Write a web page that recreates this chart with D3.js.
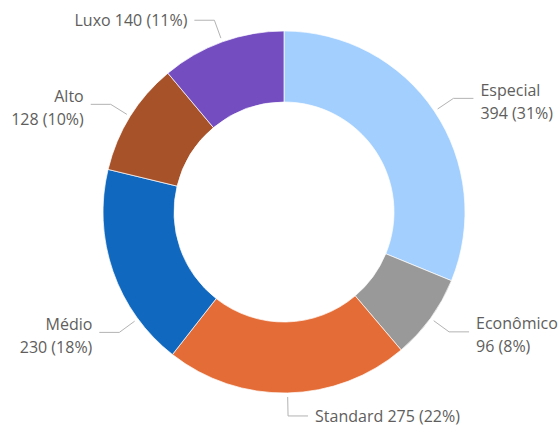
<!DOCTYPE html>
<html lang="pt-BR">
<head>
<meta charset="UTF-8">
<title>Donut</title>
<script src="https://d3js.org/d3.v7.min.js"></script>
<style>
    body { margin: 0; background: #fff; overflow: hidden; }
    .label { font-family: "Open Sans", sans-serif; font-size: 16px; fill: #605E5C; }
    .leader { fill: none; stroke: #b3b3b3; stroke-width: 1px; }
</style>
</head>
<body>
<div id="chart"></div>
<script>
    // dados
    const categories = ["Especial", "Econômico", "Standard", "Médio", "Alto", "Luxo"];
    const values = [394, 96, 275, 230, 128, 140];
    const colors = ["#A3CFFE", "#999999", "#E46C36", "#1168BF", "#A8522A", "#744EC1"];

    const width = 559, height = 428;
    const cx = 284, cy = 212;
    const outerR = 181, innerR = 110;

    // ajuste manual da posição do rótulo (graus)
    const labelNudge = { "Médio": -17 };

    const svg = d3.select("#chart").append("svg")
        .attr("width", width)
        .attr("height", height);

    const g = svg.append("g").attr("transform", `translate(${cx},${cy})`);

    const total = d3.sum(values);
    const data = categories.map((c, i) => ({ name: c, value: values[i], color: colors[i] }));

    const pie = d3.pie().value(d => d.value).sort(null);
    const arc = d3.arc().innerRadius(innerR).outerRadius(outerR);
    const arcs = pie(data);

    g.selectAll("path.slice")
        .data(arcs)
        .enter().append("path")
        .attr("class", "slice")
        .attr("d", arc)
        .attr("fill", d => d.data.color)
        .attr("stroke", "#fff")
        .attr("stroke-width", 0.7);

    const pct = d => Math.round(d.value / total * 100) + "%";

    arcs.forEach(d => {
        let a = (d.startAngle + d.endAngle) / 2 + (labelNudge[d.data.name] || 0) * Math.PI / 180;
        const sx = Math.sin(a), sy = -Math.cos(a);
        const p0 = [sx * 185, sy * 185];
        const p1 = [sx * 204, sy * 204];
        const right = sx >= -0.02;
        const p2 = [p1[0] + (right ? 20 : -20), p1[1]];
        g.append("polyline")
            .attr("class", "leader")
            .attr("points", [p0, p1, p2].map(p => p.join(",")).join(" "));

        const tx = p2[0] + (right ? 7 : -7);
        const oneLine = Math.abs(sx) < 0.45;
        const t = g.append("text")
            .attr("class", "label")
            .attr("text-anchor", right ? "start" : "end");
        if (oneLine) {
            t.append("tspan").attr("x", tx).attr("y", p2[1]).attr("dy", "0.35em")
                .text(`${d.data.name} ${d.data.value} (${pct(d.data)})`);
        } else {
            t.append("tspan").attr("x", tx).attr("y", p2[1] - 8).attr("dy", "0.35em")
                .text(d.data.name);
            t.append("tspan").attr("x", tx).attr("y", p2[1] + 15).attr("dy", "0.35em")
                .text(`${d.data.value} (${pct(d.data)})`);
        }
    });
</script>
</body>
</html>
